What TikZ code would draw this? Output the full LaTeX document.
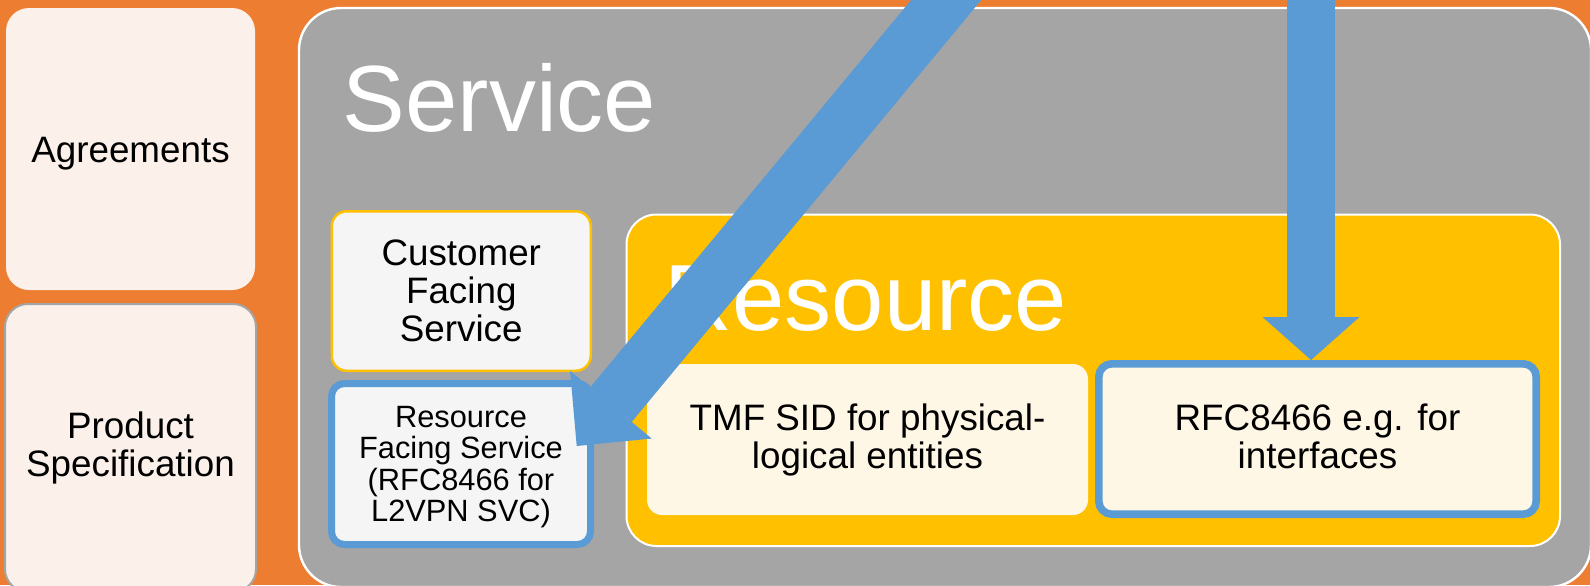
\documentclass[tikz,border=0pt]{standalone}
\usepackage{fontspec}
\setmainfont{Liberation Sans}
\usetikzlibrary{arrows.meta}
\definecolor{bgorange}{HTML}{ED7D31}
\definecolor{lightorange}{HTML}{FBF1EA}
\definecolor{svcgray}{HTML}{A5A5A5}
\definecolor{gold}{HTML}{FFC000}
\definecolor{paleg}{HTML}{F5F5F5}
\definecolor{cream}{HTML}{FFF7E6}
\definecolor{arrowblue}{HTML}{5B9BD5}
\tikzset{
  box/.style={rectangle, inner sep=0pt, align=center, text=black,
    font=\fontsize{18.4}{19}\selectfont},
  bigtitle/.style={anchor=base west, inner sep=0pt, text=white,
    font=\fontsize{47}{50}\selectfont},
  plaintext/.style={inner sep=0pt, align=center, text=black,
    font=\fontsize{18.4}{19}\selectfont},
  smalltext/.style={plaintext, font=\fontsize{15.4}{15.8}\selectfont},
  blockarrow/.style={draw=arrowblue, fill=arrowblue, line cap=butt}
}
\begin{document}
\begin{tikzpicture}[x=0.5pt,y=-0.5pt]
\useasboundingbox (0,0) rectangle (1590,585);
\clip (0,0) rectangle (1590,585);
\fill[bgorange] (0,0) rectangle (1590,585);

% left column
\node[box, fill=lightorange, rounded corners=11.5pt,
      minimum width=124.5pt, minimum height=141pt] (agr) at (130.5,149) {};
\node[plaintext] (agrtext) at (130.5,154) {Agreements};
\node[box, fill=lightorange, draw=svcgray, line width=1pt, rounded corners=11.5pt,
      minimum width=125.5pt, minimum height=144pt] (prod) at (130.5,448) {};
\node[plaintext] (prodtext) at (130.5,448) {Product\\Specification};

% service container
\node[box, fill=svcgray, draw=white, line width=1.2pt, rounded corners=21pt,
      minimum width=646pt, minimum height=289.5pt] (svc) at (945,297.5) {};
\node[bigtitle] (svctitle) at (342.4,131.7) {Service};

% service boxes
\node[box, fill=paleg, draw=gold, line width=1.25pt, rounded corners=7.5pt,
      minimum width=129.5pt, minimum height=79.75pt] (cfs) at (461.25,291)
      {Customer\\Facing\\Service};
\node[box, fill=paleg, draw=arrowblue, line width=3.5pt, rounded corners=6.5pt,
      minimum width=129.5pt, minimum height=80.5pt] (rfs) at (461,464) {};
\node[smalltext] (rfstext) at (461,467)
      {Resource\\Facing Service\\(RFC8466 for\\L2VPN SVC)};

% resource container
\node[box, fill=gold, draw=white, line width=1pt, rounded corners=15pt,
      minimum width=466.75pt, minimum height=165.75pt] (res) at (1093.25,380.25) {};
\node[bigtitle] (restitle) at (664.3,330.7) {Resource};

\node[box, fill=cream, rounded corners=7.5pt,
      minimum width=220.5pt, minimum height=75.5pt] (tmf) at (867.5,439.5)
      {TMF SID for physical-\\logical entities};
\node[box, fill=cream, draw=arrowblue, line width=3.8pt, rounded corners=6.5pt,
      minimum width=218.7pt, minimum height=75.2pt] (rfc) at (1317.5,439) {};
\node[plaintext] (rfctext) at (1317.5,436) {RFC8466 e.g. for\\interfaces};

% block arrows
\coordinate (d0) at (971,-30);
\coordinate (d1) at (576.7,446);
\draw[blockarrow, line width=27pt,
      -{Triangle[width=53pt,length=26.8pt,line width=0pt]}] (d0) -- (d1);
\coordinate (v0) at (1311,-30);
\coordinate (v1) at (1311,360);
\draw[blockarrow, line width=24pt,
      -{Triangle[width=48.5pt,length=21.5pt,line width=0pt]}] (v0) -- (v1);
\end{tikzpicture}
\end{document}
